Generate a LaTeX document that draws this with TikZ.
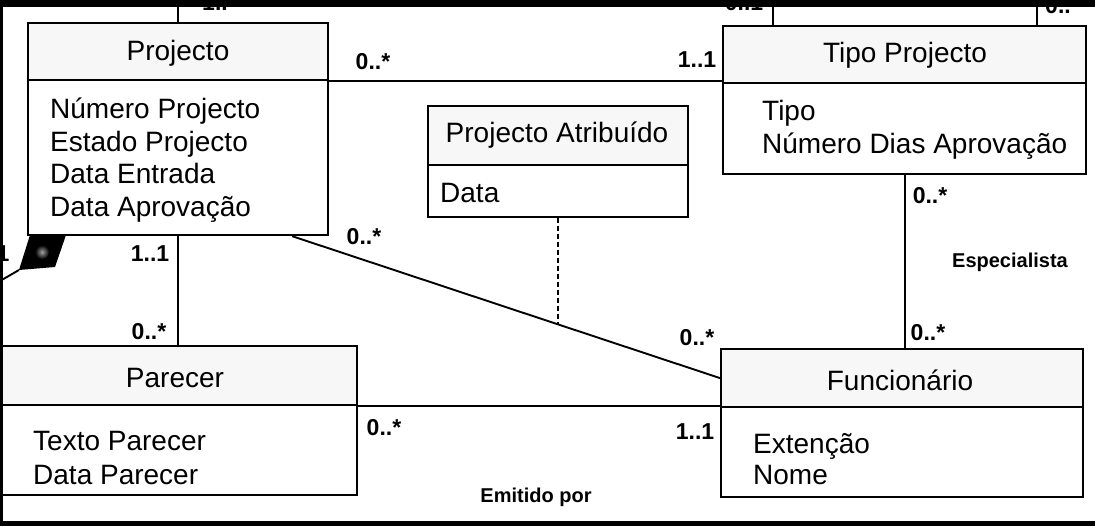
\documentclass[tikz,border=0pt]{standalone}
\usepackage{fontspec}
\setmainfont{Liberation Sans}
\begin{document}
\begin{tikzpicture}[x=1pt,y=-1pt,
  box/.style={draw, line width=2.2pt, inner sep=0pt, anchor=north west, fill=white},
  hdr/.style={box, fill=gray!6},
  conn/.style={line width=1.9pt},
  ttl/.style={font=\fontsize{28}{33}\selectfont, anchor=base, inner sep=0pt},
  attr/.style={font=\fontsize{28}{33}\selectfont, anchor=base west, inner sep=0pt},
  mult/.style={font=\bfseries\fontsize{23}{26}\selectfont, inner sep=0pt},
  role/.style={font=\bfseries\fontsize{20}{24}\selectfont, inner sep=0pt}]

\useasboundingbox (0,0) rectangle (1095,526);
\fill[white] (0,0) rectangle (1095,526);
\coordinate (topY) at (0,7);

% ---- boxes ----
\node[box, minimum width=300pt, minimum height=155pt] (projB) at (27,79) {};
\node[hdr, minimum width=300pt, minimum height=57pt] (projH) at (27,22) {};

\node[box, minimum width=363pt, minimum height=91pt] (tipoB) at (722,82) {};
\node[hdr, minimum width=363pt, minimum height=57pt] (tipoH) at (722,25) {};

\node[box, minimum width=260pt, minimum height=52pt] (attB) at (427,164) {};
\node[hdr, minimum width=260pt, minimum height=59pt] (attH) at (427,105) {};

\node[box, minimum width=376pt, minimum height=90pt] (parB) at (-20,404) {};
\node[hdr, minimum width=376pt, minimum height=59pt] (parH) at (-20,345) {};

\node[box, minimum width=362pt, minimum height=90pt] (funB) at (720,406) {};
\node[hdr, minimum width=362pt, minimum height=58pt] (funH) at (720,348) {};

% ---- titles ----
\node[ttl] (tProj) at (178,61) {Projecto};
\node[ttl] (tTipo) at (905,63) {Tipo Projecto};
\node[ttl] (tAtt) at (557,143) {Projecto Atribuído};
\node[ttl] (tPar) at (175,388) {Parecer};
\node[ttl] (tFun) at (900,391) {Funcionário};

% ---- attributes ----
\node[attr] (a1) at (50,119) {Número Projecto};
\node[attr] (a2) at (50,152) {Estado Projecto};
\node[attr] (a3) at (50,184) {Data Entrada};
\node[attr] (a4) at (50,217) {Data Aprovação};
\node[attr] (b1) at (762,121) {Tipo};
\node[attr] (b2) at (762,154) {Número Dias Aprovação};
\node[attr] (c1) at (440,203) {Data};
\node[attr] (d1) at (33,450) {Texto Parecer};
\node[attr] (d2) at (33,484) {Data Parecer};
\node[attr] (e1) at (753,453) {Extenção};
\node[attr] (e2) at (753,484) {Nome};

% ---- connectors ----
\draw[conn] (projH.south east) -- (projH.south east -| tipoH.west);
\draw[conn] (projB.south) -- (projB.south |- parH.north);
\draw[conn] (projH.north) -- (projH.north |- topY);
\draw[conn] ([xshift=51pt]tipoH.north west) coordinate (tA) -- (tA |- topY);
\draw[conn] ([xshift=-50pt]tipoH.north east) coordinate (tB) -- (tB |- topY);
\draw[conn] (tipoB.south) -- (tipoB.south |- funH.north);
\draw[conn] (parH.south east) -- (parH.south east -| funH.west);
\draw[conn] ([xshift=-37pt]projB.south east) -- coordinate[pos=0.624] (mid) (funH.west);
\draw[conn, dash pattern=on 5pt off 3pt] (attB.south) -- (attB.south |- mid);

% composition diamond
\coordinate (dA) at (30,235);
\coordinate (dB) at (66,235);
\coordinate (dC) at (55,267);
\coordinate (dD) at (19,270);
\coordinate (edgeL) at (0,281);
\fill[black] (dA) -- (dB) -- (dC) -- (dD) -- cycle;
\shade[inner color=gray!75, outer color=black] (42,252) circle (7);
\draw[conn] (dD) -- (edgeL);

% ---- multiplicities ----
\node[mult] (m1) at (373,62) {0..*};
\node[mult] (m2) at (697,60) {1..1};
\node[mult] (m3) at (364,237) {0..*};
\node[mult] (m4) at (150,254) {1..1};
\node[mult] (m5) at (149,332) {0..*};
\node[mult] (m6) at (3,254) {1};
\node[mult] (m7) at (384,428) {0..*};
\node[mult] (m8) at (695,432) {1..1};
\node[mult] (m9) at (697,338) {0..*};
\node[mult] (m10) at (930,196) {0..*};
\node[mult] (m11) at (928,333) {0..*};
\node[mult] (m12) at (215,3) {1..};
\node[mult] (m13) at (744,3) {0..1};
\node[mult] (m14) at (1058,6) {0..};
\node[role] (r1) at (1010,262) {Especialista};
\node[role] (r2) at (536,497) {Emitido por};

% ---- frame ----
\fill[black] (0,0) rectangle (1095,7);
\fill[black] (0,521) rectangle (1095,526);
\fill[black] (0,0) rectangle (2.5,526);
\end{tikzpicture}
\end{document}
